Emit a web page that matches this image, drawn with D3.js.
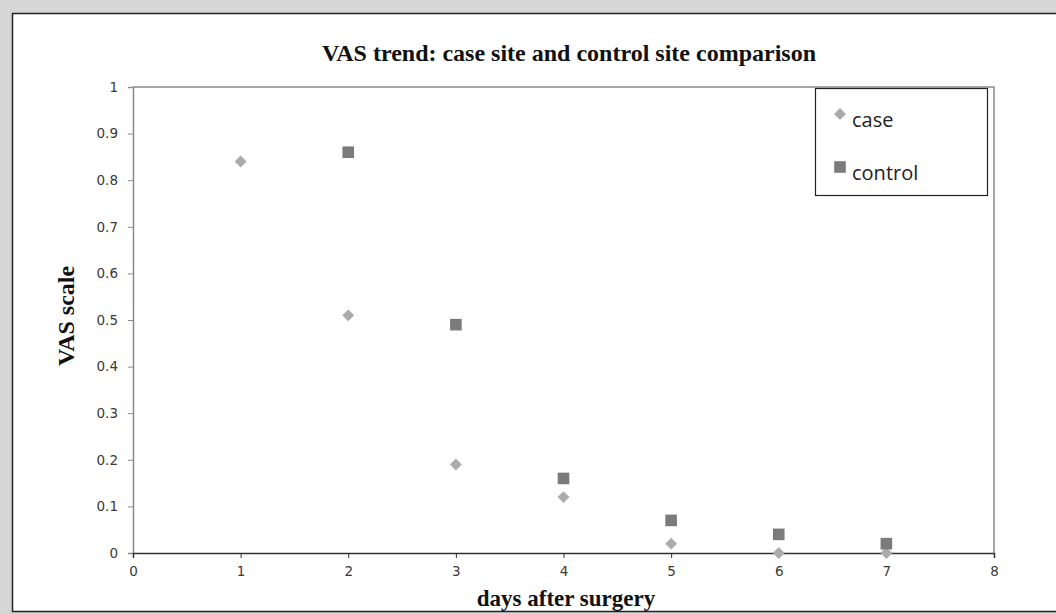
<!DOCTYPE html>
<html>
<head>
<meta charset="utf-8">
<script src="https://cdn.jsdelivr.net/npm/d3@7"></script>
<style>
  html, body { margin: 0; padding: 0; background: #d6d6d6; overflow: hidden; }
  svg { display: block; }
</style>
</head>
<body>
<svg id="chart" width="1056" height="614"></svg>
<script>
// values
const days = [1, 2, 3, 4, 5, 6, 7]
const caseVals = [0.84, 0.51, 0.19, 0.12, 0.02, 0.0, 0.0]
const controlDays = [2, 3, 4, 5, 6, 7]
const controlVals = [0.86, 0.49, 0.16, 0.07, 0.04, 0.02]
const xTicks = [0, 1, 2, 3, 4, 5, 6, 7, 8]
const yTicks = [0, 0.1, 0.2, 0.3, 0.4, 0.5, 0.6, 0.7, 0.8, 0.9, 1]
const yTickLabels = ["0", "0.1", "0.2", "0.3", "0.4", "0.5", "0.6", "0.7", "0.8", "0.9", "1"]

const width = 1056
const height = 614
const plot = { left: 133, right: 994, top: 87, bottom: 553 }

const svg = d3.select("#chart")

// outer white frame (runs off the right edge, no right border)
svg.append("rect")
    .attr("x", 12.5).attr("y", 13.5)
    .attr("width", width - 12.5).attr("height", height - 16)
    .style("fill", "#fff")
svg.append("path")
    .attr("d", `M${width},13.5H12.5V${height - 2.5}H${width}`)
    .style("fill", "none")
    .style("stroke", "#222")
    .style("stroke-width", 1.5)

const x = d3.scaleLinear().domain([0, 8]).range([plot.left, plot.right])
const y = d3.scaleLinear().domain([0, 1]).range([plot.bottom, plot.top])

// plot border (top + right, grey)
svg.append("path")
    .attr("d", `M${plot.left},${plot.top}H${plot.right}V${plot.bottom}`)
    .style("fill", "none")
    .style("stroke", "#8a8a8a")
    .style("stroke-width", 1.5)

const axisY = svg.append("g")
    .attr("transform", `translate(${plot.left},0)`)
    .call(d3.axisLeft(y).tickValues(yTicks).tickFormat((d, i) => yTickLabels[i]).tickSize(5).tickPadding(10))
axisY.select(".domain").style("stroke", "#8a8a8a").style("stroke-width", 1.5)
axisY.selectAll(".tick line").style("stroke", "#8a8a8a")
axisY.selectAll("text")
    .style("font-family", "DejaVu Sans")
    .style("font-size", "13.5px")
    .style("fill", "#3a3a3a")

const axisX = svg.append("g")
    .attr("transform", `translate(0,${plot.bottom})`)
    .call(d3.axisBottom(x).tickValues(xTicks).tickFormat(d3.format("d")).tickSize(5).tickPadding(8))
axisX.select(".domain").style("stroke", "#333").style("stroke-width", 1.5)
axisX.selectAll(".tick line").style("stroke", "#333")
axisX.selectAll("text")
    .style("font-family", "DejaVu Sans")
    .style("font-size", "13.5px")
    .style("fill", "#3a3a3a")

// markers
const diamond = d3.symbol().type(d3.symbolDiamond2).size(90)
const square = d3.symbol().type(d3.symbolSquare).size(135)

svg.append("g").selectAll("path")
    .data(days.map((d, i) => ({ day: d, v: caseVals[i] })))
    .join("path")
    .attr("d", diamond)
    .attr("transform", d => `translate(${x(d.day)},${y(d.v)})`)
    .style("fill", "#ababab")

svg.append("g").selectAll("path")
    .data(controlDays.map((d, i) => ({ day: d, v: controlVals[i] })))
    .join("path")
    .attr("d", square)
    .attr("transform", d => `translate(${x(d.day)},${y(d.v)})`)
    .style("fill", "#7b7b7b")

// title + axis labels
svg.append("text")
    .attr("x", 569).attr("y", 61)
    .attr("text-anchor", "middle")
    .text("VAS trend: case site and control site comparison")
    .style("font-family", "Liberation Serif")
    .style("font-weight", "bold")
    .style("font-size", "24px")
    .style("fill", "#111")

svg.append("text")
    .attr("transform", "translate(74,316) rotate(-90)")
    .attr("text-anchor", "middle")
    .text("VAS scale")
    .style("font-family", "Liberation Serif")
    .style("font-weight", "bold")
    .style("font-size", "24px")
    .style("fill", "#111")

svg.append("text")
    .attr("x", 566).attr("y", 606)
    .attr("text-anchor", "middle")
    .text("days after surgery")
    .style("font-family", "Liberation Serif")
    .style("font-weight", "bold")
    .style("font-size", "23px")
    .style("fill", "#111")

// legend
const legend = svg.append("g")
legend.append("rect")
    .attr("x", 815.5).attr("y", 88.5)
    .attr("width", 172).attr("height", 107)
    .style("fill", "#fff")
    .style("stroke", "#222")
    .style("stroke-width", 1.2)

const legendItems = [
    { name: "case", sym: diamond, color: "#ababab", ty: 127, my: 114 },
    { name: "control", sym: square, color: "#7b7b7b", ty: 180, my: 167 }
]
legendItems.forEach(it => {
    legend.append("path")
        .attr("d", it.sym)
        .attr("transform", `translate(840,${it.my})`)
        .style("fill", it.color)
    legend.append("text")
        .attr("x", 852).attr("y", it.ty)
        .text(it.name)
        .style("font-family", "Open Sans")
        .style("font-size", "20px")
        .style("fill", "#222")
})
</script>
</body>
</html>
